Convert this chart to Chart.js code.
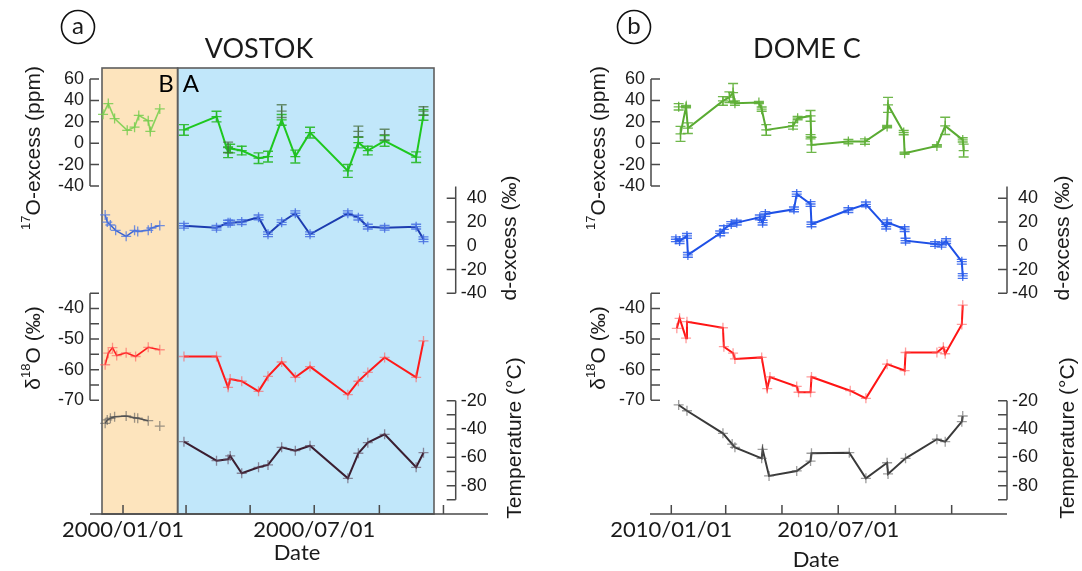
<!DOCTYPE html>
<html>
<head>
<meta charset="utf-8">
<script src="https://cdn.jsdelivr.net/npm/chart.js@4.4.1/dist/chart.umd.min.js"></script>
<style>
  html, body { margin: 0; padding: 0; background: #fff; }
  #wrap { position: relative; width: 1082px; height: 571px; overflow: hidden; }
  canvas { position: absolute; top: 0; }
  #vostok { left: 0; }
  #domec { left: 541px; }
</style>
</head>
<body>
<div id="wrap">
  <canvas id="vostok" width="541" height="571"></canvas>
  <canvas id="domec" width="541" height="571"></canvas>
</div>
<script>
// ---------- Vostok (2000), period B (before the shaded split) ----------
const vostokO17DatesB = ['1999-12-13','1999-12-18','1999-12-24','2000-01-05','2000-01-12','2000-01-16','2000-01-25','2000-01-27','2000-02-05'];
const vostokO17B      = [27, 37, 23, 12, 15, 26, 21, 11, 32];

const vostokDexDatesB = ['1999-12-15','1999-12-17','1999-12-20','1999-12-25','2000-01-04','2000-01-12','2000-01-15','2000-01-25','2000-01-28','2000-02-05'];
const vostokDexB      = [26, 20, 17.5, 13, 8, 13, 12, 13, 15, 17];

const vostokD18DatesB = ['1999-12-15','1999-12-18','1999-12-22','1999-12-26','2000-01-04','2000-01-13','2000-01-25','2000-02-05'];
const vostokD18B      = [-58.4, -54.6, -52.8, -55.4, -54.5, -55.7, -52.7, -53.5];

const vostokTDatesB   = ['1999-12-15','1999-12-17','1999-12-20','1999-12-24','2000-01-04','2000-01-12','2000-01-15','2000-01-25','2000-02-05'];
const vostokTB        = [-36, -33.6, -32.4, -31.3, -30.8, -32, -32.4, -34.1, -37.9];

// ---------- Vostok (2000), period A ----------
const vostokDatesA = ['2000-02-28','2000-03-30','2000-04-10','2000-04-12','2000-04-23','2000-05-09','2000-05-18','2000-05-31',
                      '2000-06-13','2000-06-27','2000-08-02','2000-08-12','2000-08-21','2000-09-06','2000-10-06','2000-10-13'];
const vostokO17A    = [12.4, 24.9, -8.5, -5, -6.9, -14, -12.5, 21.8, -12.5, 9.9, -25.9, 0.6, -6.9, 2.1, -13.1, 26.4];
const vostokO17ErrA = [5, 5, 5, 4, 4, 5, 5, 5, 6, 5, 6, 5, 4, 5, 5, 5];
const vostokO17RepDates = ['2000-04-10','2000-05-31','2000-08-12','2000-09-06','2000-10-13'];
const vostokO17Rep      = [-4, 30, 11, 8, 30];
const vostokO17RepErr   = [5, 6, 5, 5, 4];
const vostokDexA    = [16.9, 15.2, 19.5, 19.5, 20, 24, 9.7, 19.8, 27.4, 9.7, 27.4, 23.7, 16.1, 15.2, 16.1, 5.5];
const vostokDexErrA = [2, 2, 2, 2, 2, 2, 2, 2, 2, 2, 2, 2, 2, 2, 2, 2];
const vostokD18A    = [-55.7, -55.7, -65.8, -63.1, -63.8, -67.1, -62.2, -57.5, -62.5, -59, -68.2, -63.8, -60.9, -56, -62.5, -50.6];
const vostokTA      = [-48.9, -62.3, -61.4, -59, -71.2, -67, -65.3, -52.9, -55.3, -51.8, -74.8, -57.1, -49.6, -43.7, -67, -56.7];

const vostokPeriodB = ['1999-12-12', '2000-02-22'];
const vostokPeriodA = ['2000-02-22', '2000-10-23'];
const vostokRange   = ['1999-12-12', '2000-10-23'];

// ---------- Dome C (2010) ----------
const domeO17Dates = ['2010-01-11','2010-01-17','2010-01-19','2010-02-26','2010-03-05','2010-03-09','2010-03-11','2010-04-06',
                      '2010-04-09','2010-04-14','2010-05-13','2010-05-18','2010-06-01','2010-06-02','2010-07-12','2010-07-30',
                      '2010-08-23','2010-08-24','2010-09-10','2010-09-11','2010-10-16','2010-10-25','2010-11-13','2010-11-14'];
const domeO17    = [8.7, 34.2, 14, 39.5, 43, 47.3, 37.4, 38, 31.8, 12.4, 16.2, 23.4, 25.5, -1.6, 1.5, 1.5, 15.5, 35.8, 9.9, -9.3, -2.5, 16.2, 3.1, -6.9];
const domeO17Err = [7, 1, 5, 4, 5, 8.5, 2, 1, 2, 5, 3, 1.5, 5, 7, 2, 2.5, 1, 7, 2, 1, 1, 8, 2, 6];
const domeO17RepDates = ['2010-01-09', '2010-06-01'];
const domeO17Rep      = [34, 6];
const domeO17RepErr   = [3, 2];

const domeDexDates = ['2010-01-06','2010-01-10','2010-01-18','2010-01-19','2010-02-23','2010-02-27','2010-03-07','2010-03-13',
                      '2010-04-07','2010-04-10','2010-04-13','2010-05-14','2010-05-17','2010-06-01','2010-06-02','2010-07-12',
                      '2010-07-31','2010-08-22','2010-08-23','2010-09-11','2010-09-12','2010-10-14','2010-10-21','2010-10-26',
                      '2010-11-12','2010-11-13'];
const domeDex    = [5.5, 4, 8.3, -7.7, 10.5, 13.9, 18.4, 19.5, 24, 19.5, 26.8, 30.7, 43.6, 35.2, 18.1, 30.1, 34.9, 16.1, 19.8, 14.1, 4.3, 1.5, 0.9, 4, -13.4, -25.4];
const domeDexErr = [2, 2, 2, 2, 2, 3, 2, 2, 2, 2, 2, 2, 2, 2, 2, 2, 2, 2, 2, 2, 2, 2, 2, 2, 2, 2];

const domeD18Dates = ['2010-01-07','2010-01-10','2010-01-17','2010-01-18','2010-02-26','2010-02-27','2010-03-09','2010-03-11',
                      '2010-04-09','2010-04-15','2010-04-18','2010-05-17','2010-05-19','2010-06-01','2010-06-02','2010-07-14',
                      '2010-07-31','2010-08-23','2010-09-11','2010-09-12','2010-10-16','2010-10-23','2010-10-25','2010-11-12','2010-11-13'];
const domeD18 = [-46.5, -43.2, -49.7, -44.3, -46.3, -52.5, -54.6, -56.5, -56, -66.2, -62.4, -65.5, -67.4, -67.4, -62.4, -66.9, -69.4, -58.2, -60.3, -54.4, -54.4, -52.7, -54.8, -45.2, -38.9];

const domeTDates = ['2010-01-09','2010-01-18','2010-02-26','2010-03-08','2010-03-11','2010-04-09','2010-04-10','2010-04-17',
                    '2010-05-17','2010-06-01','2010-06-02','2010-07-13','2010-07-31','2010-08-23','2010-08-24','2010-09-12',
                    '2010-10-16','2010-10-25','2010-11-12','2010-11-13'];
const domeT = [-23, -27.1, -43, -50.6, -52.9, -60.7, -54.3, -73.1, -69.6, -62.6, -57.1, -56.7, -74.8, -63.8, -71.7, -60.7, -47.2, -48.9, -34.8, -30.8];

const domeRange = ['2009-12-10', '2010-12-31'];

// ---------- axis ticks ----------
const o17Ticks   = [60, 40, 20, 0, -20, -40];
const dexTicks   = [40, 20, 0, -20, -40];
const d18Ticks   = [-35, -40, -45, -50, -55, -60, -65, -70];
const d18Labels  = [-40, -50, -60, -70];
const tempTicks  = [-20, -30, -40, -50, -60, -70, -80, -90];
const tempLabels = [-20, -40, -60, -80];
const vostokDateTicks  = ['2000-01-01','2000-03-01','2000-05-01','2000-07-01','2000-09-01','2000-11-01'];
const vostokDateLabels = ['2000/01/01', '', '', '2000/07/01', '', ''];
const domeDateTicks    = ['2010-01-01','2010-03-01','2010-05-01','2010-07-01','2010-09-01','2010-11-01'];
const domeDateLabels   = ['2010/01/01', '', '', '2010/07/01', '', ''];

// ---------- helpers ----------
const SANS = '"Liberation Sans", Arial, sans-serif';
const LATO = 'Lato, "Open Sans", sans-serif';
const PLOT_TOP = 68, PLOT_BOTTOM = 514;

const dayNum = s => Date.UTC(+s.slice(0, 4), +s.slice(5, 7) - 1, +s.slice(8, 10)) / 864e5;
const pts = (dates, vals) => dates.map((d, i) => ({ x: dayNum(d), y: vals[i] }));

// a hidden linear y scale whose values land inside one horizontal band of the plot
function bandScale(hiV, hiPx, loV, loPx) {
  const k = (loPx - hiPx) / (hiV - loV);
  const max = hiV + (hiPx - PLOT_TOP) / k;
  const min = max - (PLOT_BOTTOM - PLOT_TOP) / k;
  return { type: 'linear', display: false, min, max };
}

function series(data, axis, color, marker, extra) {
  return Object.assign({
    data, yAxisID: axis, borderColor: color, backgroundColor: marker,
    borderWidth: 2, tension: 0, fill: false, clip: false,
    pointStyle: 'cross', pointRadius: 5, pointHoverRadius: 5,
    pointBorderColor: marker, pointBorderWidth: 1.3
  }, extra || {});
}

function richText(ctx, parts, cx, cy, rot) {
  ctx.save();
  ctx.translate(cx, cy);
  ctx.rotate(rot);
  ctx.textAlign = 'left';
  ctx.textBaseline = 'alphabetic';
  let total = 0;
  parts.forEach(p => { ctx.font = p.size + 'px ' + SANS; p.w = ctx.measureText(p.t).width; total += p.w; });
  let x = -total / 2;
  parts.forEach(p => {
    ctx.font = p.size + 'px ' + SANS;
    ctx.fillText(p.t, x, 7.5 - (p.rise || 0));
    x += p.w;
  });
  ctx.restore();
}

// error bars for datasets that carry an `errs` array
const errorBars = {
  id: 'errorBars',
  afterDatasetsDraw(chart) {
    const ctx = chart.ctx;
    chart.data.datasets.forEach((ds, i) => {
      if (!ds.errs) return;
      const meta = chart.getDatasetMeta(i);
      const ys = chart.scales[ds.yAxisID];
      ctx.save();
      ctx.strokeStyle = ds.errColor;
      ctx.lineWidth = 1.4;
      meta.data.forEach((el, j) => {
        const e = ds.errs[j];
        if (!e) return;
        const v = ds.data[j].y;
        const x = el.x, y1 = ys.getPixelForValue(v + e), y2 = ys.getPixelForValue(v - e);
        ctx.beginPath();
        ctx.moveTo(x, y1); ctx.lineTo(x, y2);
        ctx.moveTo(x - 5, y1); ctx.lineTo(x + 5, y1);
        ctx.moveTo(x - 5, y2); ctx.lineTo(x + 5, y2);
        ctx.stroke();
      });
      ctx.restore();
    });
  }
};

// axes, titles and shaded periods of one panel
function makeFrame(cfg) {
  return {
    id: 'frame',
    beforeDatasetsDraw(chart) {
      if (!cfg.periods) return;
      const { ctx, chartArea: a } = chart;
      const xs = chart.scales.x;
      ctx.save();
      cfg.periods.forEach(p => {
        const x0 = xs.getPixelForValue(dayNum(p.range[0])), x1 = xs.getPixelForValue(dayNum(p.range[1]));
        ctx.fillStyle = p.color;
        ctx.fillRect(x0, a.top, x1 - x0, a.bottom - a.top);
      });
      ctx.strokeStyle = '#5e5e5e';
      ctx.lineWidth = 1.6;
      cfg.periods.forEach(p => {
        const x0 = xs.getPixelForValue(dayNum(p.range[0])), x1 = xs.getPixelForValue(dayNum(p.range[1]));
        ctx.strokeRect(x0, a.top, x1 - x0, a.bottom - a.top);
      });
      ctx.fillStyle = '#000';
      ctx.font = '24px ' + LATO;
      ctx.textBaseline = 'alphabetic';
      cfg.periods.forEach(p => {
        const xe = xs.getPixelForValue(dayNum(p.range[p.labelSide === 'right' ? 1 : 0]));
        ctx.textAlign = p.labelSide === 'right' ? 'right' : 'left';
        ctx.fillText(p.name, p.labelSide === 'right' ? xe - 4 : xe + 5, 92);
      });
      ctx.restore();
    },
    afterDraw(chart) {
      const ctx = chart.ctx;
      const axisColor = '#4a4a4a';
      ctx.save();
      ctx.strokeStyle = axisColor;
      ctx.fillStyle = '#1a1a1a';
      ctx.lineWidth = 1.5;

      // y axes
      cfg.yAxes.forEach(ax => {
        const s = chart.scales[ax.scale];
        const dir = ax.side === 'left' ? 1 : -1;
        ctx.beginPath();
        ctx.moveTo(ax.x, s.getPixelForValue(ax.from));
        ctx.lineTo(ax.x, s.getPixelForValue(ax.to));
        ax.ticks.forEach(v => {
          const y = s.getPixelForValue(v);
          ctx.moveTo(ax.x, y); ctx.lineTo(ax.x + dir * 9, y);
        });
        ctx.stroke();
        ctx.font = '18px ' + SANS;
        ctx.textBaseline = 'middle';
        ax.labels.forEach(v => {
          const y = s.getPixelForValue(v);
          if (ax.side === 'left') {
            ctx.textAlign = 'right';
            ctx.fillText(String(v), ax.x - 6, y);
          } else {
            const x0 = ax.x + 11;
            ctx.textAlign = 'left';
            ctx.fillText(String(Math.abs(v)), x0, y);
            if (v < 0) { ctx.textAlign = 'right'; ctx.fillText('-', x0, y); }
          }
        });
      });

      // date axis
      const xs = chart.scales.x, xa = cfg.xAxis;
      ctx.beginPath();
      ctx.moveTo(xa.from, PLOT_BOTTOM);
      ctx.lineTo(xa.to, PLOT_BOTTOM);
      xa.ticks.forEach(d => {
        const x = xs.getPixelForValue(dayNum(d));
        ctx.moveTo(x, PLOT_BOTTOM); ctx.lineTo(x, PLOT_BOTTOM - 9);
      });
      ctx.stroke();
      ctx.font = '22px ' + LATO;
      ctx.textAlign = 'center';
      ctx.textBaseline = 'middle';
      xa.ticks.forEach((d, i) => {
        if (xa.labels[i]) ctx.fillText(xa.labels[i], xs.getPixelForValue(dayNum(d)), 530);
      });
      ctx.fillText('Date', xa.titleX, xa.titleY);

      // panel title and letter
      ctx.font = '27px ' + LATO;
      ctx.fillText(cfg.title, cfg.titleX, 49);
      ctx.beginPath();
      ctx.strokeStyle = '#111';
      ctx.lineWidth = 1.6;
      ctx.arc(cfg.letterX, 27, 16.5, 0, Math.PI * 2);
      ctx.stroke();
      ctx.font = '24px ' + LATO;
      ctx.fillText(cfg.letter, cfg.letterX, 26);

      // rotated axis titles
      ctx.fillStyle = '#1a1a1a';
      const up = -Math.PI / 2;
      richText(ctx, [{ t: '17', size: 13, rise: 10 }, { t: 'O-excess (ppm)', size: 21 }], cfg.leftTitleX, 148, up);
      richText(ctx, [{ t: '\u03b4', size: 21 }, { t: '18', size: 13, rise: 10 }, { t: 'O (\u2030)', size: 21 }], cfg.leftTitleX, 348, up);
      richText(ctx, [{ t: 'd-excess (\u2030)', size: 21 }], cfg.rightTitleX, 238, up);
      richText(ctx, [{ t: 'Temperature (\u00b0C)', size: 21 }], cfg.rightTitleX + 5, 438, up);
      ctx.restore();
    }
  };
}

const scalesFor = range => ({
  x: { type: 'linear', display: false, min: dayNum(range[0]), max: dayNum(range[1]) },
  yO17: bandScale(60, 79, -40, 186),
  yDex: bandScale(40, 198.3, -40, 293.3),
  yD18: bandScale(-40, 308.5, -70, 400.2),
  yT:   bandScale(-20, 400.7, -80, 485.7)
});

const baseOptions = (range, pad) => ({
  responsive: false,
  animation: false,
  devicePixelRatio: 1,
  events: [],
  layout: { padding: pad },
  plugins: { legend: { display: false }, tooltip: { enabled: false } },
  scales: scalesFor(range)
});

// ---------- panel (a): Vostok ----------
const tempB = pts(vostokTDatesB, vostokTB);
new Chart(document.getElementById('vostok'), {
  type: 'line',
  data: {
    datasets: [
      series(pts(vostokO17DatesB, vostokO17B), 'yO17', '#8ad35c', 'rgba(120,205,80,0.85)', { borderWidth: 1.6 }),
      series(pts(vostokDatesA, vostokO17A), 'yO17', '#1ec81e', 'rgba(30,190,30,0.9)',
             { errs: vostokO17ErrA, errColor: 'rgba(40,185,40,0.9)' }),
      series(pts(vostokO17RepDates, vostokO17Rep), 'yO17', 'rgba(0,0,0,0)', 'rgba(70,110,60,0.75)',
             { showLine: false, errs: vostokO17RepErr, errColor: 'rgba(70,110,60,0.75)' }),
      series(pts(vostokDexDatesB, vostokDexB), 'yDex', '#3b63d0', 'rgba(80,120,225,0.8)', { borderWidth: 1.5 }),
      series(pts(vostokDatesA, vostokDexA), 'yDex', '#1c3cb0', 'rgba(70,110,225,0.85)',
             { errs: vostokDexErrA, errColor: 'rgba(70,110,225,0.85)' }),
      series(pts(vostokD18DatesB, vostokD18B), 'yD18', '#ff1e1e', 'rgba(255,90,90,0.6)', { borderWidth: 1.6 }),
      series(pts(vostokDatesA, vostokD18A), 'yD18', '#ff1a1a', 'rgba(255,90,90,0.6)'),
      series(tempB, 'yT', '#4f4f4f', 'rgba(90,90,90,0.6)', {
        borderWidth: 1.5,
        segment: { borderColor: c => (c.p1DataIndex === tempB.length - 1 ? 'rgba(0,0,0,0)' : undefined) }
      }),
      series(pts(vostokDatesA, vostokTA), 'yT', '#3b1f31', 'rgba(95,70,90,0.6)')
    ]
  },
  options: baseOptions(vostokRange, { left: 102, right: 107, top: PLOT_TOP, bottom: 571 - PLOT_BOTTOM }),
  plugins: [errorBars, makeFrame({
    title: 'VOSTOK', titleX: 259, letter: 'a', letterX: 78,
    leftTitleX: 32, rightTitleX: 508,
    periods: [
      { name: 'B', range: vostokPeriodB, color: '#fde4bd', labelSide: 'right' },
      { name: 'A', range: vostokPeriodA, color: '#c1e7fa', labelSide: 'left' }
    ],
    yAxes: [
      { scale: 'yO17', side: 'left', x: 90, from: 60, to: -40, ticks: o17Ticks, labels: o17Ticks },
      { scale: 'yDex', side: 'right', x: 455.7, from: 50, to: -40, ticks: dexTicks, labels: dexTicks },
      { scale: 'yD18', side: 'left', x: 90, from: -35, to: -70, ticks: d18Ticks, labels: d18Labels },
      { scale: 'yT', side: 'right', x: 455.7, from: -20, to: -90, ticks: tempTicks, labels: tempLabels }
    ],
    xAxis: { from: 90, to: 488, ticks: vostokDateTicks, labels: vostokDateLabels, titleX: 297, titleY: 553 }
  })]
});

// ---------- panel (b): Dome C ----------
new Chart(document.getElementById('domec'), {
  type: 'line',
  data: {
    datasets: [
      series(pts(domeO17Dates, domeO17), 'yO17', '#5aab32', 'rgba(95,175,55,0.9)',
             { errs: domeO17Err, errColor: 'rgba(95,175,55,0.9)' }),
      series(pts(domeO17RepDates, domeO17Rep), 'yO17', 'rgba(0,0,0,0)', 'rgba(95,175,55,0.9)',
             { showLine: false, errs: domeO17RepErr, errColor: 'rgba(95,175,55,0.9)' }),
      series(pts(domeDexDates, domeDex), 'yDex', '#1e50e6', 'rgba(40,90,235,0.85)',
             { errs: domeDexErr, errColor: 'rgba(40,90,235,0.85)' }),
      series(pts(domeD18Dates, domeD18), 'yD18', '#ff1414', 'rgba(255,90,90,0.6)'),
      series(pts(domeTDates, domeT), 'yT', '#3a3a3a', 'rgba(90,90,90,0.6)')
    ]
  },
  options: baseOptions(domeRange, { left: 110, right: 75, top: PLOT_TOP, bottom: 571 - PLOT_BOTTOM }),
  plugins: [errorBars, makeFrame({
    title: 'DOME C', titleX: 266, letter: 'b', letterX: 93,
    leftTitleX: 56, rightTitleX: 520,
    yAxes: [
      { scale: 'yO17', side: 'left', x: 110, from: 60, to: -40, ticks: o17Ticks, labels: o17Ticks },
      { scale: 'yDex', side: 'right', x: 466, from: 50, to: -40, ticks: dexTicks, labels: dexTicks },
      { scale: 'yD18', side: 'left', x: 110, from: -35, to: -70, ticks: d18Ticks, labels: d18Labels },
      { scale: 'yT', side: 'right', x: 466, from: -20, to: -90, ticks: tempTicks, labels: tempLabels }
    ],
    xAxis: { from: 109, to: 466, ticks: domeDateTicks, labels: domeDateLabels, titleX: 275, titleY: 560 }
  })]
});
</script>
</body>
</html>
